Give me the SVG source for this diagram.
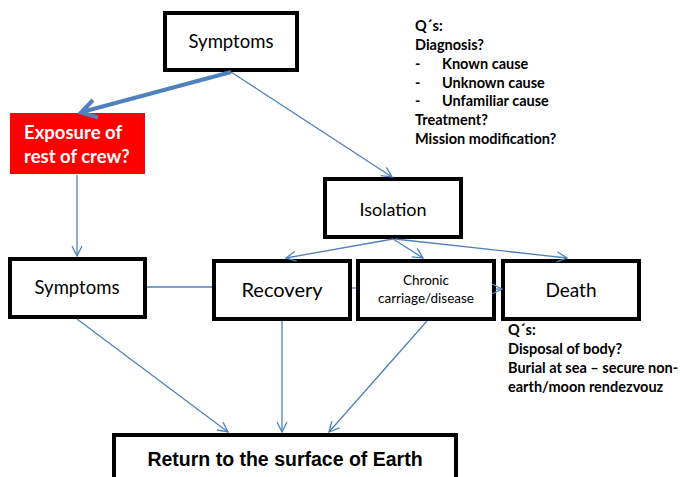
<svg xmlns="http://www.w3.org/2000/svg" width="680" height="477" viewBox="0 0 680 477">
<defs>
<style>
.box{fill:#fff;stroke:#000;stroke-width:4}
.lbl{font-family:Lato,"Open Sans",sans-serif;fill:#000;text-anchor:middle}
.q{font-family:Lato,"Open Sans",sans-serif;font-weight:bold;font-size:14.5px;fill:#000}
.con{fill:none;stroke:#4F81BD;stroke-width:1.3}
.thick{fill:none;stroke:#4F81BD;stroke-width:4;stroke-linejoin:miter}
</style>
<marker id="ah" viewBox="0 0 12 12" refX="11" refY="6" markerWidth="12" markerHeight="12" markerUnits="userSpaceOnUse" orient="auto">
<path d="M1,1 L11,6 L1,11" fill="none" stroke="#4F81BD" stroke-width="1.3"/>
</marker>
</defs>
<rect width="680" height="477" fill="#fff"/>
<g id="symptoms-top">
<rect class="box" x="165" y="13" width="132" height="57"/>
<text class="lbl" x="231" y="48" font-size="18.5">Symptoms</text>
</g>
<g id="exposure">
<rect x="10" y="113" width="135" height="61" fill="#FF0000"/>
<text x="24" y="139" font-family="Lato,'Open Sans',sans-serif" font-weight="bold" font-size="18.5" fill="#fff">Exposure of</text>
<text x="24" y="163" font-family="Lato,'Open Sans',sans-serif" font-weight="bold" font-size="18.5" fill="#fff">rest of crew?</text>
</g>
<g id="questions-top">
<text class="q" x="415" y="31">Q´s:</text>
<text class="q" x="415" y="50">Diagnosis?</text>
<text class="q" x="415" y="69">-</text><text class="q" x="442" y="69">Known cause</text>
<text class="q" x="415" y="88">-</text><text class="q" x="442" y="88">Unknown cause</text>
<text class="q" x="415" y="106">-</text><text class="q" x="442" y="106">Unfamiliar cause</text>
<text class="q" x="415" y="125">Treatment?</text>
<text class="q" x="415" y="144">Mission modification?</text>
</g>
<g id="isolation">
<rect class="box" x="325" y="179" width="136" height="58"/>
<text class="lbl" x="393" y="216" font-size="18">Isolation</text>
</g>
<g id="symptoms-left">
<rect class="box" x="10" y="259" width="135" height="58"/>
<text class="lbl" x="77" y="294" font-size="18.5">Symptoms</text>
</g>
<g id="recovery">
<rect class="box" x="214" y="261" width="136" height="58"/>
<text class="lbl" x="282" y="297" font-size="20">Recovery</text>
</g>
<g id="chronic">
<rect class="box" x="358" y="261" width="136" height="58"/>
<text class="lbl" x="426" y="285" font-size="13.5">Chronic</text>
<text class="lbl" x="426" y="303" font-size="13.5">carriage/disease</text>
</g>
<g id="death">
<rect class="box" x="503" y="261" width="136" height="58"/>
<text class="lbl" x="571" y="297" font-size="19">Death</text>
</g>
<g id="questions-death">
<text class="q" x="508" y="335">Q´s:</text>
<text class="q" x="508" y="354">Disposal of body?</text>
<text class="q" x="508" y="373">Burial at sea – secure non-</text>
<text class="q" x="508" y="392">earth/moon rendezvouz</text>
</g>
<g id="return">
<rect class="box" x="114" y="435" width="342" height="60"/>
<text x="285" y="466" font-family="'Liberation Sans',Arial,sans-serif" font-weight="bold" font-size="19.5" text-anchor="middle" fill="#000">Return to the surface of Earth</text>
</g>
<g id="connectors">
<line class="thick" x1="231" y1="72" x2="82" y2="112"/>
<polyline class="thick" points="93,100 81,112.5 98,117.5"/>
<line class="con" x1="231" y1="72" x2="392" y2="177" marker-end="url(#ah)"/>
<line class="con" x1="77" y1="175" x2="77" y2="256" marker-end="url(#ah)"/>
<line class="con" x1="147" y1="287" x2="212" y2="287"/>
<line class="con" x1="352" y1="288" x2="356" y2="288"/>
<line class="con" x1="496" y1="289" x2="502" y2="289" marker-end="url(#ah)"/>
<line class="con" x1="393" y1="239" x2="286" y2="258" marker-end="url(#ah)"/>
<line class="con" x1="393" y1="239" x2="423" y2="258" marker-end="url(#ah)"/>
<line class="con" x1="395" y1="239" x2="567" y2="258" marker-end="url(#ah)"/>
<line class="con" x1="77" y1="319" x2="228" y2="432" marker-end="url(#ah)"/>
<line class="con" x1="282" y1="321" x2="282" y2="432" marker-end="url(#ah)"/>
<line class="con" x1="427" y1="321" x2="329" y2="432" marker-end="url(#ah)"/>
</g>
</svg>
